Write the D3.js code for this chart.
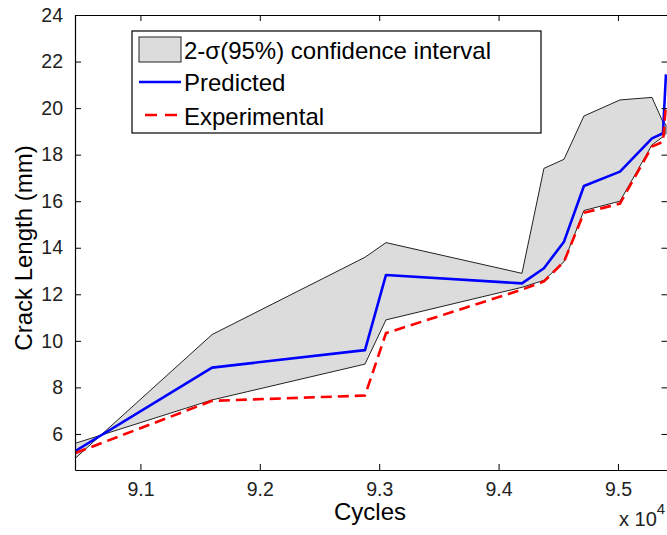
<!DOCTYPE html>
<html>
<head>
<meta charset="utf-8">
<script src="https://cdn.jsdelivr.net/npm/d3@7/dist/d3.min.js"></script>
<style>
  html, body { margin: 0; padding: 0; background: #fff; }
  svg { display: block; font-family: "Liberation Sans", Arial, Helvetica, sans-serif; }
</style>
</head>
<body>
<svg id="chart" width="667" height="535"></svg>
<script>
// ---- data (cycles, crack length in mm) ----
const cycles       = [90456, 91600, 92881, 93057, 94196, 94380, 94548, 94715, 95017, 95285, 95377, 95402];
const upperBound   = [4.96, 10.27, 13.59, 14.22, 12.90, 17.41, 17.80, 19.66, 20.35, 20.46, 19.40, 19.30];
const lowerBound   = [5.60, 7.46, 9.00, 10.90, 12.30, 12.60, 13.40, 15.60, 16.00, 18.42, 18.77, 18.90];
const predicted    = [5.27, 8.85, 9.60, 12.83, 12.47, 13.12, 14.26, 16.65, 17.27, 18.70, 18.92, 21.45];
const experimental = [5.18, 7.42, 7.65, 10.33, 12.20, 12.55, 13.40, 15.50, 15.90, 18.35, 18.55, 20.15];
const xTicks = [91000, 92000, 93000, 94000, 95000];
const yTicks = [6, 8, 10, 12, 14, 16, 18, 20, 22, 24];
const legendLabels = ["2-\u03C3(95%) confidence interval", "Predicted", "Experimental"];

const svg = d3.select("#chart");
const L = 75, T = 15, R = 667.5, B = 470;

const x = d3.scaleLinear().domain([90452, 95415]).range([L, R]);
const y = d3.scaleLinear().domain([4.45, 24]).range([B, T]);

const pts = cycles.map((c, i) => ({c, up: upperBound[i], lo: lowerBound[i], p: predicted[i], e: experimental[i]}));

svg.append("defs").append("clipPath").attr("id", "clip")
  .append("rect").attr("x", L).attr("y", T).attr("width", R - L).attr("height", B - T);

const g = svg.append("g").attr("clip-path", "url(#clip)");

// confidence band
const area = d3.area().x(d => x(d.c)).y0(d => y(d.lo)).y1(d => y(d.up));
g.append("path").datum(pts).attr("d", area)
  .attr("fill", "#dcdcdc").attr("stroke", "#222").attr("stroke-width", 1);

// predicted
g.append("path").datum(pts)
  .attr("d", d3.line().x(d => x(d.c)).y(d => y(d.p)))
  .attr("fill", "none").attr("stroke", "#0000ff").attr("stroke-width", 2.6).attr("stroke-linejoin", "round");

// experimental
g.append("path").datum(pts)
  .attr("d", d3.line().x(d => x(d.c)).y(d => y(d.e)))
  .attr("fill", "none").attr("stroke", "#ff0000").attr("stroke-width", 2.6)
  .attr("stroke-dasharray", "11,6");

// axes
const tickLen = 6;
const fmtX = d => d3.format(".1f")(d / 1e4);

const xAxis = svg.append("g").attr("transform", `translate(0,${B})`)
  .call(d3.axisBottom(x).tickValues(xTicks).tickFormat(fmtX).tickSizeInner(-tickLen).tickSizeOuter(0).tickPadding(12));
const xTop = svg.append("g").attr("transform", `translate(0,${T})`)
  .call(d3.axisTop(x).tickValues(xTicks).tickFormat("").tickSizeInner(-tickLen).tickSizeOuter(0));
const yAxis = svg.append("g").attr("transform", `translate(${L},0)`)
  .call(d3.axisLeft(y).tickValues(yTicks).tickSizeInner(-tickLen).tickSizeOuter(0).tickPadding(12));
const yRight = svg.append("g").attr("transform", `translate(${R},0)`)
  .call(d3.axisRight(y).tickValues(yTicks).tickFormat("").tickSizeInner(-tickLen).tickSizeOuter(0));

[xAxis, xTop, yAxis, yRight].forEach(a => {
  a.select(".domain").attr("stroke", "#000").attr("stroke-width", 1.2);
  a.selectAll(".tick line").attr("stroke", "#000").attr("stroke-width", 1);
  a.selectAll("text").attr("font-size", 19.5).attr("fill", "#222")
    .attr("font-family", "'Liberation Sans', Arial, sans-serif");
});

// axis labels
svg.append("text").attr("x", 370).attr("y", 520).attr("text-anchor", "middle")
  .attr("font-size", 24).attr("fill", "#000").text("Cycles");
const sci = svg.append("text").attr("x", 619).attr("y", 526).attr("font-size", 20).attr("fill", "#222");
sci.append("tspan").text("x 10");
sci.append("tspan").attr("dy", -12).attr("font-size", 15).text("4");

svg.append("text").attr("transform", `translate(32,248) rotate(-90)`)
  .attr("text-anchor", "middle").attr("font-size", 24).attr("fill", "#000")
  .text("Crack Length (mm)");

// legend
const lg = svg.append("g");
lg.append("rect").attr("x", 132).attr("y", 31).attr("width", 409).attr("height", 102)
  .attr("fill", "#fff").attr("stroke", "#000").attr("stroke-width", 1.2);
lg.append("rect").attr("x", 139).attr("y", 37).attr("width", 42).attr("height", 25)
  .attr("fill", "#dcdcdc").attr("stroke", "#222").attr("stroke-width", 1);
lg.append("line").attr("x1", 139).attr("x2", 181).attr("y1", 82).attr("y2", 82)
  .attr("stroke", "#0000ff").attr("stroke-width", 2.6);
lg.append("line").attr("x1", 145).attr("x2", 181).attr("y1", 115).attr("y2", 115)
  .attr("stroke", "#ff0000").attr("stroke-width", 2.6).attr("stroke-dasharray", "12,8");
const ly = [59, 91, 125];
legendLabels.forEach((t, i) => {
  lg.append("text").attr("x", 184).attr("y", ly[i]).attr("font-size", 24).attr("fill", "#000").text(t);
});
</script>
</body>
</html>
